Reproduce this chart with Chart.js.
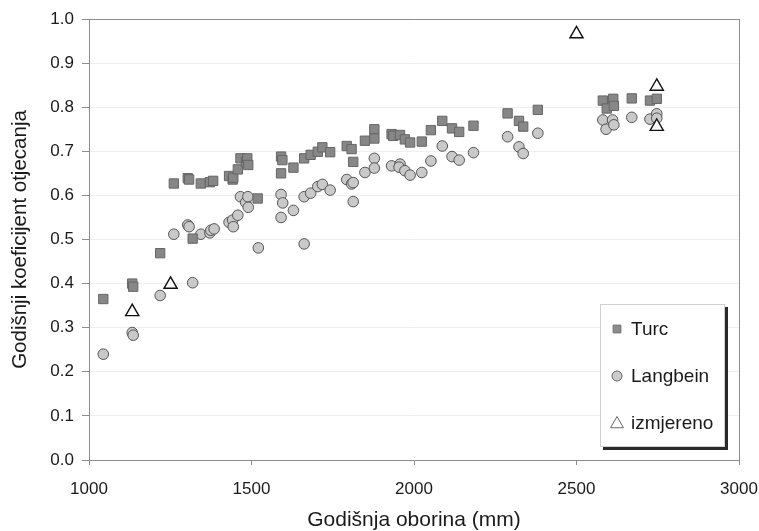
<!DOCTYPE html>
<html>
<head>
<meta charset="utf-8">
<script src="https://cdn.jsdelivr.net/npm/chart.js@4.4.1/dist/chart.umd.min.js"></script>
<style>
  html, body { margin: 0; padding: 0; background: #fff; }
  #wrap { width: 759px; height: 531px; }
</style>
</head>
<body>
<div id="wrap"><canvas id="myChart" width="759" height="531"></canvas></div>
<script>
// Turc
const turcX = [1044,1133,1136,1219,1261,1304,1308,1319,1344,1372,1382,1431,1442,1444,1458,1466,1483,1487,1490,1519,
  1591,1595,1591,1629,1662,1682,1704,1718,1742,1793,1808,1813,1849,1878,1878,1931,1936,1957,1972,1988,
  2024,2052,2087,2117,2139,2183,2288,2323,2336,2381,2581,2593,2613,2615,2670,2726,2747];
const turcY = [0.365,0.400,0.393,0.469,0.627,0.639,0.636,0.502,0.627,0.630,0.633,0.644,0.636,0.640,0.659,0.684,0.676,0.684,0.669,0.593,
  0.688,0.680,0.650,0.663,0.684,0.692,0.699,0.709,0.698,0.712,0.705,0.676,0.724,0.750,0.729,0.739,0.735,0.737,0.727,0.720,
  0.722,0.748,0.769,0.752,0.744,0.758,0.786,0.769,0.756,0.794,0.815,0.797,0.819,0.803,0.820,0.815,0.819];

// Langbein
const langX = [1044,1133,1136,1219,1261,1304,1308,1319,1344,1372,1375,1385,1431,1442,1444,1458,1466,1482,1489,1490,1521,
  1591,1596,1591,1629,1662,1662,1682,1704,1718,1742,1793,1808,1813,1813,1849,1878,1878,1931,1957,1954,1972,1988,
  2024,2052,2087,2117,2139,2183,2288,2323,2336,2381,2581,2591,2611,2615,2670,2726,2747,2747];
const langY = [0.240,0.289,0.283,0.373,0.512,0.533,0.529,0.402,0.512,0.515,0.521,0.524,0.539,0.544,0.529,0.555,0.597,0.584,0.597,0.573,0.481,
  0.602,0.583,0.550,0.566,0.490,0.597,0.605,0.620,0.625,0.612,0.636,0.626,0.629,0.586,0.652,0.684,0.662,0.667,0.671,0.664,0.656,0.646,
  0.652,0.678,0.712,0.688,0.680,0.697,0.733,0.710,0.695,0.741,0.771,0.750,0.771,0.760,0.777,0.773,0.785,0.775];

// izmjereno
const measX = [1133,1251,2500,2747,2747];
const measY = [0.336,0.398,0.966,0.847,0.756];

const xTicks = [1000,1500,2000,2500,3000];
const yTicks = [0,0.1,0.2,0.3,0.4,0.5,0.6,0.7,0.8,0.9,1.0];

function pts(xs, ys) {
    const out = [];
    for (let i = 0; i < xs.length; i++) out.push({x: xs[i], y: ys[i]});
    return out;
}

const FONT = "'Liberation Sans', Arial, sans-serif";

// legend box with shadow, drawn inside the plot area
const legendBox = {
    id: 'legendBox',
    afterDraw(chart) {
        const ctx = chart.ctx;
        const a = chart.chartArea;
        const w = 125, h = 143;
        const x = a.right - 14 - w, y = a.bottom - 13 - h;
        ctx.save();
        ctx.fillStyle = '#2a2a2a';
        ctx.fillRect(x + 3, y + 3, w, h);
        ctx.fillStyle = '#ffffff';
        ctx.fillRect(x, y, w, h);
        ctx.strokeStyle = '#d0d0d0';
        ctx.lineWidth = 1;
        ctx.strokeRect(x + 0.5, y + 0.5, w - 1, h - 1);
        const marks = [
            {style: 'rect', r: 5.5, fill: '#8c8c8c', line: '#707070'},
            {style: 'circle', r: 5, fill: '#cccccc', line: '#666666'},
            {style: 'triangle', r: 7.5, fill: '#ffffff', line: '#666666'}
        ];
        ctx.font = '19px ' + FONT;
        ctx.textBaseline = 'middle';
        ctx.textAlign = 'left';
        chart.data.datasets.forEach(function(ds, i) {
            const cy = y + 25 + i * 47;
            const m = marks[i];
            ctx.fillStyle = m.fill;
            ctx.strokeStyle = m.line;
            ctx.lineWidth = 1;
            Chart.helpers.drawPoint(ctx, {pointStyle: m.style, radius: m.r, borderWidth: 1, rotation: 0}, x + 17, cy + (m.style === 'triangle' ? 1 : 0));
            ctx.fillStyle = '#1a1a1a';
            ctx.fillText(ds.label, x + 31, cy + 1);
        });
        ctx.restore();
    }
};

const ctx = document.getElementById('myChart').getContext('2d');
const chart = new Chart(ctx, {
    type: 'scatter',
    data: {
        datasets: [{
            label: 'Turc',
            data: pts(turcX, turcY),
            pointStyle: 'rect',
            pointRadius: 6.6,
            backgroundColor: '#878787',
            borderColor: '#666666',
            borderWidth: 1,
            order: 2
        }, {
            label: 'Langbein',
            data: pts(langX, langY),
            pointStyle: 'circle',
            pointRadius: 5.3,
            backgroundColor: '#c9c9c9',
            borderColor: '#555555',
            borderWidth: 1,
            order: 3
        }, {
            label: 'izmjereno',
            data: pts(measX, measY),
            pointStyle: 'triangle',
            pointRadius: 7.6,
            backgroundColor: '#ffffff',
            borderColor: '#111111',
            borderWidth: 1.4,
            order: 1
        }]
    },
    options: {
        responsive: false,
        animation: false,
        devicePixelRatio: 1,
        layout: { padding: { left: 0, top: 19, right: 0, bottom: 0 } },
        plugins: {
            legend: { display: false },
            tooltip: { enabled: false }
        },
        scales: {
            x: {
                type: 'linear',
                min: 1000,
                max: 3000,
                afterBuildTicks: function(s) { s.ticks = xTicks.map(v => ({value: v})); },
                afterFit: function(s) {
                    s.height = 71;
                    s.paddingLeft = 0;
                    s.paddingRight = 20;
                },
                ticks: {
                    font: { family: FONT, size: 17 },
                    color: '#1a1a1a',
                    padding: 14,
                    maxRotation: 0,
                    callback: v => String(v)
                },
                grid: {
                    color: c => (c.tick && c.tick.value === 3000) ? '#8c8c8c' : 'rgba(0,0,0,0)',
                    tickColor: '#8c8c8c',
                    tickLength: 5,
                    lineWidth: 1
                },
                border: { color: '#8c8c8c', width: 1 },
                title: {
                    display: true,
                    text: 'Godišnja oborina (mm)',
                    font: { family: FONT, size: 21, lineHeight: 1 },
                    color: '#1a1a1a',
                    padding: 0
                }
            },
            y: {
                type: 'linear',
                min: 0,
                max: 1,
                afterBuildTicks: function(s) { s.ticks = yTicks.map(v => ({value: v})); },
                afterFit: function(s) {
                    s.width = 89;
                    s.paddingTop = 0;
                    s.paddingBottom = 0;
                },
                ticks: {
                    font: { family: FONT, size: 17 },
                    color: '#1a1a1a',
                    padding: 8,
                    callback: v => v.toFixed(1)
                },
                grid: {
                    color: c => (c.tick && c.tick.value === 1) ? '#8c8c8c' : '#efefef',
                    tickColor: '#8c8c8c',
                    tickLength: 7,
                    lineWidth: 1
                },
                border: { color: '#8c8c8c', width: 1 },
                title: {
                    display: true,
                    text: 'Godišnji koeficijent otjecanja',
                    font: { family: FONT, size: 20.5, lineHeight: 1.2 },
                    color: '#1a1a1a',
                    padding: { top: 8, bottom: 0 }
                }
            }
        }
    },
    plugins: [legendBox]
});
</script>
</body>
</html>
